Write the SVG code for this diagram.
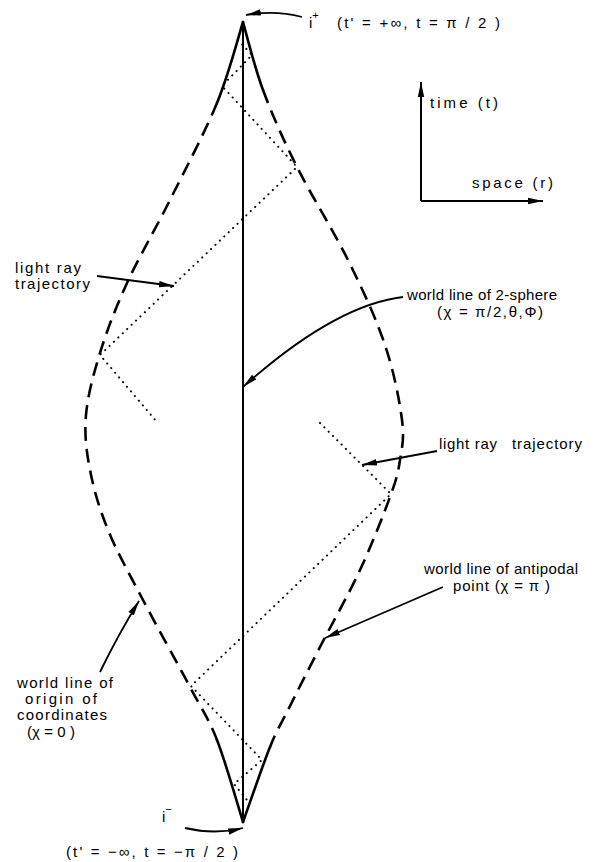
<svg xmlns="http://www.w3.org/2000/svg" width="610" height="862" viewBox="0 0 610 862">
<defs>
<style>
.t{font-family:"Liberation Sans",Arial,sans-serif;font-size:15px;fill:#000}
.solid{fill:none;stroke:#000;stroke-width:2.6;stroke-linecap:round}
.dash{fill:none;stroke:#000;stroke-width:2.6;stroke-dasharray:14 8}
.dot{fill:none;stroke:#000;stroke-width:2;stroke-linecap:round;stroke-dasharray:0.1 6}
.ptr{fill:none;stroke:#000;stroke-width:1.8}
.axis{fill:none;stroke:#000;stroke-width:2}
</style>
<marker id="ah" markerUnits="userSpaceOnUse" markerWidth="16" markerHeight="10" refX="15" refY="5" orient="auto">
<path d="M0,1.8 L15,5 L0,8.2 Z" fill="#000"/>
</marker>
</defs>
<g id="boundary-left">
<path class="solid" d="M243,22 C238.7,35.5 229.2,73.3 217,103"/>
<path class="dash" d="M217,103 C204.8,132.7 185,170 170,200 C155,230 138.7,257.5 127,283 C115.3,308.5 106.8,331 100,353 C93.2,375 87.7,395.5 86,415 C84.3,434.5 86.3,450.8 90,470 C93.7,489.2 99.2,508.3 108,530 C116.8,551.7 129.3,573.8 143,600 C156.7,626.2 177.7,663.7 190,687 C202.3,710.3 208.2,717.5 217,740"/>
<path class="solid" d="M217,740 C225.8,762.5 238.7,808.3 243,822"/>
</g>
<g id="boundary-right">
<path class="solid" d="M243,22 C246.3,33.3 254,65.8 263,90"/>
<path class="dash" d="M263,90 C272,114.2 282.8,138.7 297,167 C311.2,195.3 333.3,230.3 348,260 C362.7,289.7 376,318.3 385,345 C394,371.7 399.5,400.8 402,420 C404.5,439.2 402,447.2 400,460 C398,472.8 396.7,478.7 390,497 C383.3,515.3 371.7,545 360,570 C348.3,595 332,623.7 320,647 C308,670.3 296.3,693.3 288,710 C279.7,726.7 277.5,728.3 270,747"/>
<path class="solid" d="M270,747 C262.5,765.7 247.5,809.5 243,822"/>
</g>
<g id="worldline-2sphere">
<line class="axis" x1="243" y1="22" x2="243" y2="822"/>
</g>
<g id="light-rays">
<polyline class="dot" points="238,40 252,55 222,86 297,167 100,355 157,422"/>
<polyline class="dot" points="320,423 391,494 191,686 262,760 234,784 247,800"/>
</g>
<g id="axes">
<line class="axis" x1="421" y1="201" x2="421" y2="82" marker-end="url(#ah)"/>
<line class="axis" x1="421" y1="201" x2="543" y2="201" marker-end="url(#ah)"/>
<text class="t" x="430" y="108" textLength="68">time (t)</text>
<text class="t" x="472" y="188" textLength="81">space (r)</text>
</g>
<g id="connectors">
<path class="ptr" d="M302,17 Q275,10 246,15" marker-end="url(#ah)"/>
<path class="ptr" d="M97,276 L174,286" marker-end="url(#ah)"/>
<path class="ptr" d="M403,297 Q335,305 243,387" marker-end="url(#ah)"/>
<path class="ptr" d="M437,451 L362,465" marker-end="url(#ah)"/>
<path class="ptr" d="M443,587 L325,638" marker-end="url(#ah)"/>
<path class="ptr" d="M100,672 Q118,635 139,601" marker-end="url(#ah)"/>
<path class="ptr" d="M185,828 Q215,835 243,828" marker-end="url(#ah)"/>
</g>
<g id="label-iplus">
<text class="t" x="309" y="28">i<tspan dy="-9" font-size="11">+</tspan></text>
<text class="t" x="337" y="28" textLength="163">(t' = +∞, t =  π / 2 )</text>
</g>
<g id="label-ray-left">
<text class="t" x="15" y="273" textLength="66">light ray</text>
<text class="t" x="15" y="289" textLength="75">trajectory</text>
</g>
<g id="label-2sphere">
<text class="t" x="407" y="300" textLength="150">world line of 2-sphere</text>
<text class="t" x="437" y="317" textLength="106">(χ = π/2,θ,Φ)</text>
</g>
<g id="label-ray-right">
<text class="t" x="439" y="449" textLength="58">light ray</text>
<text class="t" x="512" y="449" textLength="70">trajectory</text>
</g>
<g id="label-antipodal">
<text class="t" x="424" y="574" textLength="154">world line of antipodal</text>
<text class="t" x="453" y="591" textLength="97">point (χ = π )</text>
</g>
<g id="label-origin">
<text class="t" x="17" y="688" textLength="96">world line of</text>
<text class="t" x="25" y="704" textLength="72">origin of</text>
<text class="t" x="17" y="720" textLength="90">coordinates</text>
<text class="t" x="27" y="737" textLength="48">(χ = 0 )</text>
</g>
<g id="label-iminus">
<text class="t" x="162" y="822">i<tspan dy="-9" font-size="11">−</tspan></text>
<text class="t" x="238" y="857" text-anchor="end" textLength="172">(t' = −∞, t = −π / 2 )</text>
</g>
</svg>
